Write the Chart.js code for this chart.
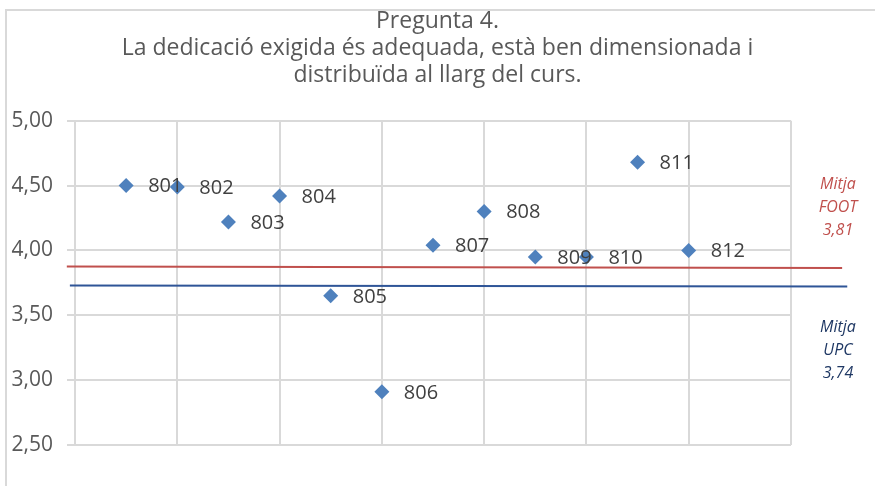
<!DOCTYPE html>
<html>
<head>
<meta charset="utf-8">
<script src="https://cdn.jsdelivr.net/npm/chart.js@4"></script>
<style>
  html, body { margin: 0; padding: 0; background: #fff; }
  canvas { display: block; }
</style>
</head>
<body>
<canvas id="myChart" width="875" height="486"></canvas>
<script>
// grups de la pregunta 4 (posicio a l'eix x i valor mitja)
const groups = ['801', '802', '803', '804', '805', '806', '807', '808', '809', '810', '811', '812']
const positions = [0.5, 1, 1.5, 2, 2.5, 3, 3.5, 4, 4.5, 5, 5.5, 6]
const scores = [4.50, 4.49, 4.22, 4.42, 3.65, 2.91, 4.04, 4.30, 3.95, 3.95, 4.68, 4.00]

const yTicks = [2.5, 3, 3.5, 4, 4.5, 5]

// mitjanes tal com estan dibuixades (linia lleugerament inclinada)
const footAvg = 3.81
const footLineX = [-0.08, 7.5]
const footLineY = [3.877, 3.864]
const upcAvg = 3.74
const upcLineX = [-0.05, 7.55]
const upcLineY = [3.730, 3.722]

const titleLines = ['Pregunta 4.', 'La dedicació exigida és adequada, està ben dimensionada i', 'distribuïda al llarg del curs.']

const FONT = "'Open Sans', sans-serif"
const fmt = v => v.toFixed(2).replace('.', ',')

const pointLabels = {
  id: 'pointLabels',
  afterDatasetsDraw(chart) {
    const {ctx} = chart
    const meta = chart.getDatasetMeta(0)
    ctx.save()
    ctx.font = '20px ' + FONT
    ctx.fillStyle = '#404040'
    ctx.textBaseline = 'middle'
    ctx.textAlign = 'left'
    meta.data.forEach((pt, i) => {
      ctx.fillText(groups[i], pt.x + 22, pt.y + 1)
    })
    ctx.restore()
  },
}

const sideNotes = {
  id: 'sideNotes',
  afterDraw(chart) {
    const {ctx, chartArea, scales} = chart
    const cx = chartArea.right + 47
    ctx.save()
    ctx.font = 'italic 16px ' + FONT
    ctx.textAlign = 'center'
    ctx.textBaseline = 'middle'
    const block = (lines, centerVal, color) => {
      const yc = scales.y.getPixelForValue(centerVal)
      ctx.fillStyle = color
      lines.forEach((t, i) => ctx.fillText(t, cx, yc + (i - 1) * 23))
    }
    block(['Mitja', 'FOOT', fmt(footAvg)], 4.33, '#c0504d')
    block(['Mitja', 'UPC', fmt(upcAvg)], 3.23, '#1f3864')
    ctx.restore()
  },
}

const frame = {
  id: 'frame',
  beforeDraw(chart) {
    const {ctx, width, height} = chart
    ctx.save()
    ctx.fillStyle = '#fff'
    ctx.fillRect(0, 0, width, height)
    ctx.strokeStyle = '#d9d9d9'
    ctx.lineWidth = 2
    ctx.beginPath()
    ctx.moveTo(6, height)
    ctx.lineTo(6, 10)
    ctx.lineTo(width, 10)
    ctx.stroke()
    ctx.restore()
  },
}

new Chart('myChart', {
  data: {
    datasets: [
      {
        type: 'scatter',
        data: positions.map((x, i) => ({x, y: scores[i]})),
        pointStyle: 'rectRot',
        pointRadius: 7.5,
        pointHoverRadius: 7.5,
        backgroundColor: '#4f81bd',
        borderColor: '#4f81bd',
        borderWidth: 0,
        order: 1,
      },
      {
        type: 'line',
        data: footLineX.map((x, i) => ({x, y: footLineY[i]})),
        borderColor: '#c0504d',
        borderWidth: 2,
        pointRadius: 0,
        clip: false,
        order: 2,
      },
      {
        type: 'line',
        data: upcLineX.map((x, i) => ({x, y: upcLineY[i]})),
        borderColor: '#2f5597',
        borderWidth: 2,
        pointRadius: 0,
        clip: false,
        order: 3,
      },
    ],
  },
  options: {
    responsive: false,
    animation: false,
    events: [],
    layout: {padding: {left: 0, right: 0, top: 2, bottom: 41}},
    plugins: {
      legend: {display: false},
      tooltip: {enabled: false},
      title: {
        display: true,
        text: titleLines,
        color: '#595959',
        font: {family: FONT, size: 23, weight: 'normal', lineHeight: 1.17},
        padding: {top: 6, bottom: 32},
      },
    },
    scales: {
      x: {
        type: 'linear',
        min: 0,
        max: 7,
        ticks: {display: false, stepSize: 1},
        grid: {color: '#d9d9d9', lineWidth: 2, drawTicks: false},
        border: {display: false},
      },
      y: {
        min: 2.5,
        max: 5,
        afterFit: s => { s.width = 75 },
        afterBuildTicks: s => { s.ticks = yTicks.map(v => ({value: v})) },
        ticks: {
          callback: v => fmt(v),
          color: '#595959',
          font: {family: FONT, size: 21},
          padding: 14,
        },
        grid: {color: '#d9d9d9', lineWidth: 2, tickLength: 8},
        border: {display: false},
      },
      // marge dret per a les notes de les mitjanes
      side: {
        type: 'linear',
        position: 'right',
        min: 2.5,
        max: 5,
        afterFit: s => { s.width = 84 },
        ticks: {display: false},
        grid: {display: false},
        border: {display: false},
      },
    },
  },
  plugins: [frame, pointLabels, sideNotes],
})
</script>
</body>
</html>
